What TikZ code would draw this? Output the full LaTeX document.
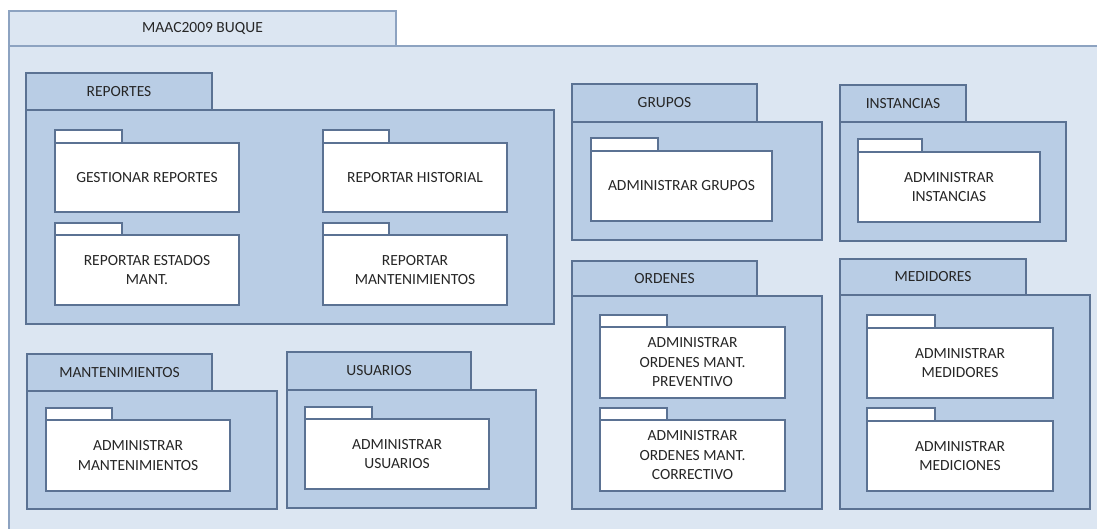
\documentclass[tikz,border=0pt]{standalone}
\usepackage{fontspec}
\setmainfont{Carlito}
\definecolor{bgc}{HTML}{DCE6F2}
\definecolor{outc}{HTML}{8DA3C1}
\definecolor{pkgc}{HTML}{B9CDE5}
\definecolor{bordc}{HTML}{5B7293}
\definecolor{txtc}{HTML}{262626}
\tikzset{
  boxbase/.style={anchor=center, inner sep=0pt, outer sep=0pt, align=center,
    text=txtc, font=\fontsize{15.5}{19.5}\selectfont},
  outerbody/.style={boxbase, fill=bgc, draw=none},
  outertab/.style={boxbase, fill=bgc, draw=outc, line width=1.2pt},
  pkgbox/.style={boxbase, fill=pkgc, draw=bordc, line width=1.3pt},
  subbox/.style={boxbase, fill=white, draw=bordc, line width=1.3pt},
}
% #1 style, #2 name, (#3,#4) top-left, (#5,#6) bottom-right, #7 text
\newcommand{\bx}[7]{\node[#1, minimum width={#5-#3}, minimum height={#6-#4}]
  (#2) at ({(#3+#5)/2},{(#4+#6)/2}) {#7};}
\begin{document}
\begin{tikzpicture}[x=1pt,y=-1pt]
\useasboundingbox (0,0) rectangle (1097,529);
% outer package
\bx{outerbody}{main}{9}{46}{1097}{529}{}
\draw[outc, line width=1.2pt] (main.south west) -- (main.north west) -- (main.north east);
\bx{outertab}{maintab}{9}{11}{396}{46}{MAAC2009 BUQUE}

% REPORTES
\bx{pkgbox}{repbody}{26}{110}{554}{324}{}
\bx{pkgbox}{reptab}{26}{73}{212}{110}{REPORTES}
\bx{subbox}{grtab}{55}{130}{122}{143}{}
\bx{subbox}{gr}{55}{143}{239}{212}{GESTIONAR REPORTES}
\bx{subbox}{rhtab}{323}{130}{389}{143}{}
\bx{subbox}{rh}{323}{143}{507}{212}{REPORTAR HISTORIAL}
\bx{subbox}{retab}{55}{223}{122}{235}{}
\bx{subbox}{re}{55}{235}{239}{305}{REPORTAR ESTADOS\\MANT.}
\bx{subbox}{rmtab}{323}{223}{389}{235}{}
\bx{subbox}{rm}{323}{235}{507}{305}{REPORTAR\\MANTENIMIENTOS}

% GRUPOS
\bx{pkgbox}{grubody}{572}{122}{822}{240}{}
\bx{pkgbox}{grutab}{572}{84}{757}{122}{GRUPOS}
\bx{subbox}{agtab}{591}{138}{658}{151}{}
\bx{subbox}{ag}{591}{151}{772}{221}{ADMINISTRAR GRUPOS}

% INSTANCIAS
\bx{pkgbox}{insbody}{840}{122}{1066}{241}{}
\bx{pkgbox}{instab}{840}{85}{966}{122}{INSTANCIAS}
\bx{subbox}{aitab}{858}{139}{922}{152}{}
\bx{subbox}{ai}{858}{152}{1040}{222}{ADMINISTRAR\\INSTANCIAS}

% ORDENES
\bx{pkgbox}{ordbody}{572}{296}{822}{509}{}
\bx{pkgbox}{ordtab}{572}{261}{757}{296}{ORDENES}
\bx{subbox}{aoptab}{600}{315}{667}{327}{}
\bx{subbox}{aop}{600}{327}{785}{398}{ADMINISTRAR\\ORDENES MANT.\\PREVENTIVO}
\bx{subbox}{aoctab}{600}{408}{667}{420}{}
\bx{subbox}{aoc}{600}{420}{785}{491}{ADMINISTRAR\\ORDENES MANT.\\CORRECTIVO}

% MEDIDORES
\bx{pkgbox}{medbody}{840}{295}{1090}{509}{}
\bx{pkgbox}{medtab}{840}{259}{1026}{295}{MEDIDORES}
\bx{subbox}{amdtab}{867}{315}{935}{328}{}
\bx{subbox}{amd}{867}{328}{1053}{398}{ADMINISTRAR\\MEDIDORES}
\bx{subbox}{amctab}{867}{408}{935}{421}{}
\bx{subbox}{amc}{867}{421}{1053}{491}{ADMINISTRAR\\MEDICIONES}

% MANTENIMIENTOS
\bx{pkgbox}{manbody}{27}{391}{277}{509}{}
\bx{pkgbox}{mantab}{27}{354}{212}{391}{MANTENIMIENTOS}
\bx{subbox}{amtab}{46}{408}{112}{420}{}
\bx{subbox}{am}{46}{420}{230}{491}{ADMINISTRAR\\MANTENIMIENTOS}

% USUARIOS
\bx{pkgbox}{usubody}{287}{390}{536}{508}{}
\bx{pkgbox}{usutab}{287}{352}{471}{390}{USUARIOS}
\bx{subbox}{autab}{305}{407}{372}{419}{}
\bx{subbox}{au}{305}{419}{489}{489}{ADMINISTRAR\\USUARIOS}
\end{tikzpicture}
\end{document}
